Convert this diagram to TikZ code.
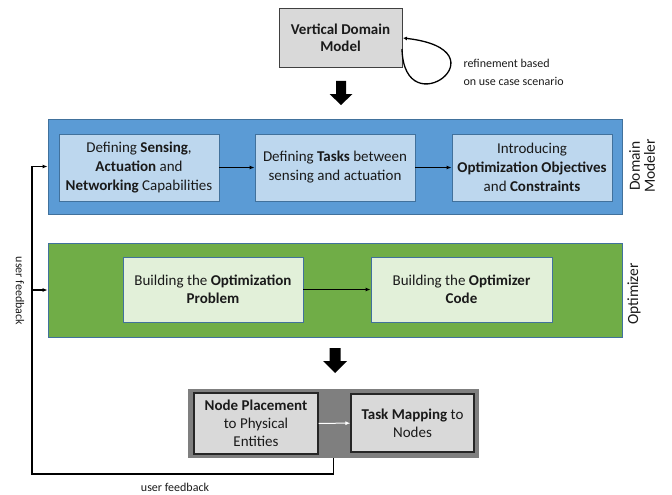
\documentclass[tikz,border=0pt]{standalone}
\usepackage{fontspec}
\setmainfont{Carlito}
\usetikzlibrary{arrows.meta}
\definecolor{bluefill}{HTML}{5B9BD5}
\definecolor{blueline}{HTML}{41719C}
\definecolor{lightblue}{HTML}{BDD7EE}
\definecolor{greenfill}{HTML}{70AD47}
\definecolor{lightgreen}{HTML}{E2F0D9}
\definecolor{dkgrayfill}{HTML}{7F7F7F}
\definecolor{ltgrayfill}{HTML}{D9D9D9}
\definecolor{edgegray}{HTML}{404040}
\definecolor{txt}{HTML}{1A1A1A}
\begin{document}
\begin{tikzpicture}[x=1pt,y=-1pt,
  box/.style={draw, inner sep=0pt, align=center, text=txt, font=\fontsize{15}{19}\selectfont},
  bluebox/.style={box, fill=lightblue, draw=blueline, line width=0.8pt},
  greenbox/.style={box, fill=lightgreen, draw=blueline, line width=0.8pt},
  graybox/.style={box, fill=ltgrayfill, draw=black!85, line width=1.2pt, font=\fontsize{15}{18}\selectfont},
  panel/.style={draw=blueline, line width=0.8pt, inner sep=0pt},
  conn/.style={line width=1.3pt, -{Latex[length=5pt,width=4pt]}},
  small/.style={font=\fontsize{12}{18}\selectfont, text=txt},
  side/.style={font=\fontsize{15.5}{15}\selectfont, rotate=90, align=center, text=txt},
  blockarrow/.style={fill=black}
]
\useasboundingbox (0,0) rectangle (672,495);

% top model
\node[graybox, draw=edgegray, line width=0.9pt, font=\fontsize{15}{17}\selectfont,
      minimum width=123pt, minimum height=59pt] (vdm) at (340.5,37.5)
      {\textbf{Vertical Domain}\\\textbf{Model}};
\draw[line width=1.3pt, -{Latex[length=4pt,width=4pt]}]
  (402,49) .. controls (404,128) and (508,50) .. (403,38);
\node[small, anchor=west, align=left] (refl) at (460,72)
  {refinement based\\on use case scenario};

% block arrow 1
\fill[blockarrow] (336,81) -- (346,81) -- (346,94) -- (352.5,94) -- (341,105)
  -- (329.5,94) -- (336,94) -- cycle;

% domain modeler panel
\node[panel, fill=bluefill, minimum width=574pt, minimum height=95pt] (dm) at (335,166.5) {};
\node[bluebox, minimum width=160pt, minimum height=67pt] (b1) at (139,167.5)
  {Defining \textbf{Sensing},\\\textbf{Actuation} and\\\textbf{Networking} Capabilities};
\node[bluebox, minimum width=160pt, minimum height=67pt] (b2) at (335,167.5)
  {Defining \textbf{Tasks} between\\sensing and actuation};
\node[bluebox, minimum width=160pt, minimum height=67pt] (b3) at (532,167.5)
  {Introducing\\\textbf{Optimization Objectives}\\and \textbf{Constraints}};
\draw[conn] (b1) -- (b2);
\draw[conn] (b2) -- (b3);
\node[side] (dml) at (642,166) {Domain\\Modeler};

% optimizer panel
\node[panel, fill=greenfill, minimum width=574pt, minimum height=94pt] (opt) at (335,290) {};
\node[greenbox, minimum width=180pt, minimum height=65pt, font=\fontsize{15}{18}\selectfont] (g1) at (213,289.5)
  {Building the \textbf{Optimization}\\\textbf{Problem}};
\node[greenbox, minimum width=181pt, minimum height=65pt, font=\fontsize{15}{18}\selectfont] (g2) at (461.5,289.5)
  {Building the \textbf{Optimizer}\\\textbf{Code}};
\draw[conn] (g1) -- (g2);
\node[side] (optl) at (634,294) {Optimizer};

% block arrow 2
\fill[blockarrow] (329.5,348) -- (340.5,348) -- (340.5,361) -- (347,361) -- (335,373)
  -- (323,361) -- (329.5,361) -- cycle;

% bottom panel
\node[draw=none, fill=dkgrayfill, inner sep=0pt, minimum width=291pt, minimum height=69pt] (bot) at (333.5,423.5) {};
\node[graybox, minimum width=124pt, minimum height=61pt] (n1) at (256,423.5)
  {\textbf{Node Placement}\\to Physical\\Entities};
\node[graybox, minimum width=123pt, minimum height=58pt] (n2) at (412.5,423)
  {\textbf{Task Mapping} to\\Nodes};
\draw[conn, white, line width=1pt] (n1) -- (n2);

% feedback
\coordinate (fbc) at (32,474);
\draw[conn] (bot.south) |- (fbc) |- (dm.west);
\draw[conn] (fbc |- opt.west) -- (opt.west);
\node[small, rotate=-90] (fbl) at (20,291) {user feedback};
\node[small] (fbb) at (175,487) {user feedback};
\end{tikzpicture}
\end{document}
